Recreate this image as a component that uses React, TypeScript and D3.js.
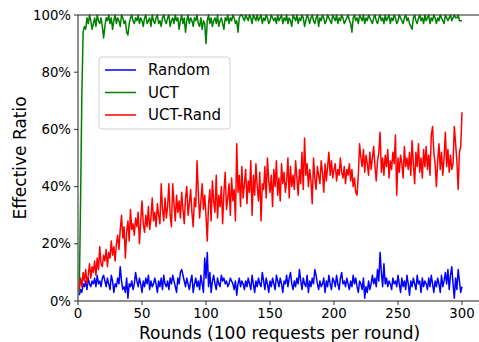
import React from 'react';
import * as d3 from 'd3';

// Effective ratio (%) per round
const randomSeries = [
  2, 4, 3, 6, 5, 7, 4, 8, 6, 5,
  7, 6, 8, 5, 9, 6, 7, 5, 8, 9,
  7, 5, 8, 6, 4, 9, 7, 3, 6, 5,
  8, 6, 12, 7, 4, 5, 3, 8, 1, 6,
  5, 7, 4, 6, 10, 7, 5, 8, 6, 3,
  7, 5, 8, 6, 9, 4, 7, 5, 6, 8,
  6, 3, 7, 5, 8, 4, 9, 6, 5, 7,
  4, 8, 6, 9, 7, 5, 3, 8, 6, 10,
  11, 9, 7, 5, 8, 6, 4, 7, 9, 3,
  6, 8, 5, 7, 4, 9, 6, 3, 15, 8,
  17, 5, 10, 3, 7, 9, 6, 4, 8, 6,
  5, 9, 7, 8, 6, 7, 5, 6, 8, 7,
  6, 4, 7, 2, 6, 8, 5, 7, 6, 4,
  7, 5, 8, 6, 4, 9, 6, 3, 7, 5,
  8, 6, 5, 10, 7, 4, 8, 6, 3, 7,
  5, 8, 6, 4, 9, 7, 5, 8, 6, 3,
  7, 6, 9, 5, 8, 10, 6, 4, 7, 5,
  8, 6, 11, 7, 4, 8, 6, 5, 9, 3,
  7, 5, 8, 6, 11, 9, 6, 4, 7, 5,
  6, 8, 3, 7, 5, 9, 6, 4, 8, 7,
  5, 9, 6, 4, 8, 10, 6, 7, 5, 8,
  6, 4, 7, 5, 9, 6, 8, 5, 3, 7,
  6, 4, 8, 1, 5, 3, 7, 4, 6, 9,
  6, 8, 5, 11, 7, 17, 10, 5, 13, 6,
  8, 5, 7, 6, 4, 8, 6, 7, 5, 9,
  6, 3, 8, 5, 7, 4, 9, 6, 2, 7,
  5, 8, 6, 4, 9, 6, 7, 3, 8, 5,
  7, 6, 4, 8, 5, 9, 6, 3, 7, 5,
  8, 6, 3, 9, 5, 7, 10, 6, 11, 4,
  9, 12, 6, 1, 8, 4, 11, 7, 3, 5,
];

const uctSeries = [
  3, 35, 72, 94, 96, 95, 99, 97, 100, 98,
  95, 97, 99, 96, 100, 98, 97, 99, 96, 92,
  96, 99, 98, 100, 97, 99, 95, 98, 100, 97,
  99, 98, 96, 100, 99, 97, 98, 94, 93, 97,
  99, 100, 98, 97, 99, 98, 100, 97, 99, 98,
  96, 99, 100, 97, 98, 99, 96, 100, 98, 97,
  99, 100, 97, 98, 96, 99, 100, 98, 97, 99,
  100, 96, 98, 99, 97, 100, 98, 99, 95, 98,
  100, 97, 99, 94, 98, 100, 97, 99, 98, 96,
  99, 98, 100, 97, 96, 99, 95, 98, 97, 90,
  98, 100, 97, 99, 96, 98, 99, 97, 100, 96,
  98, 99, 97, 95, 99, 98, 100, 97, 99, 98,
  100, 99, 97, 98, 94, 99, 100, 100, 99, 98,
  100, 99, 98, 100, 99, 97, 100, 99, 98, 100,
  98, 99, 100, 97, 99, 98, 100, 99, 97, 98,
  100, 99, 98, 99, 97, 100, 98, 99, 100, 97,
  99, 98, 100, 97, 99, 98, 96, 100, 99, 98,
  100, 97, 99, 98, 100, 99, 96, 98, 100, 99,
  97, 99, 100, 98, 97, 99, 100, 96, 99, 98,
  100, 99, 97, 98, 100, 99, 98, 97, 100, 99,
  98, 100, 97, 99, 98, 100, 99, 97, 98, 99,
  100, 98, 97, 94, 99, 100, 98, 99, 97, 100,
  99, 98, 100, 97, 99, 98, 100, 99, 98, 97,
  99, 100, 98, 97, 99, 100, 98, 99, 97, 100,
  98, 99, 100, 97, 99, 98, 100, 99, 97, 98,
  100, 99, 98, 97, 99, 100, 98, 99, 97, 96,
  95, 99, 100, 98, 97, 99, 100, 98, 99, 97,
  100, 98, 99, 100, 97, 99, 98, 100, 99, 97,
  99, 98, 100, 99, 98, 97, 100, 99, 98, 99,
  100, 98, 99, 100, 99, 99, 100, 98, 98, 98,
];

const uctRandSeries = [
  4, 8, 5, 10, 7, 11, 6, 9, 13, 8,
  12, 10, 14, 9, 15, 11, 19, 13, 12, 16,
  14, 18, 12, 17, 15, 21, 16, 19, 14, 20,
  23, 18, 25, 30, 22, 26, 15, 24, 28, 21,
  32, 25, 27, 23, 29, 26, 31, 20, 28, 35,
  27, 24, 30, 26, 33, 25, 29, 36, 28, 31,
  26, 34, 30, 27, 41, 32, 28, 36, 29, 33,
  41, 30, 26, 41, 34, 28, 37, 31, 35, 29,
  38, 32, 27, 36, 40, 30, 34, 39, 31, 26,
  36, 33, 49, 38, 29, 35, 41, 32, 37, 30,
  21, 34, 39, 28, 42, 35, 31, 44, 29, 37,
  33, 40, 27, 38, 45, 32, 36, 41, 30, 43,
  35, 39, 28, 55, 38, 44, 33, 47, 36, 41,
  46, 34, 42, 38, 49, 30, 44, 37, 48, 40,
  35, 45, 28, 41, 39, 47, 36, 50, 42, 38,
  44, 33, 46, 40, 49, 37, 43, 35, 48, 41,
  45, 38, 42, 50, 36, 47, 40, 44, 39, 49,
  43, 37, 46, 41, 52, 39, 57, 44, 48, 40,
  46, 42, 34, 50, 43, 39, 47, 44, 41, 49,
  45, 38, 48, 42, 47, 52, 44, 49, 43, 46,
  48, 42, 46, 44, 50, 45, 43, 47, 41, 46,
  44, 48, 42, 46, 40, 43, 38, 37, 44, 55,
  50, 47, 53, 45, 51, 48, 44, 52, 46, 50,
  54, 47, 42, 49, 52, 59, 45, 50, 44, 51,
  47, 53, 43, 49, 46, 52, 48, 58, 37, 50,
  45, 51, 48, 43, 54, 47, 50, 46, 52, 44,
  56, 48, 41, 52, 47, 55, 45, 50, 43, 53,
  47, 54, 46, 51, 44, 58, 61, 52, 48, 40,
  49, 55, 46, 52, 44, 50, 59, 47, 53, 45,
  51, 46, 48, 61, 55, 49, 39, 52, 54, 66,
];

const seriesNames = ['Random', 'UCT', 'UCT-Rand'];
const seriesColors = ['#0000ff', '#008000', '#ff0000'];
const xTicks = [0, 50, 100, 150, 200, 250, 300];
const yTicks = [0, 20, 40, 60, 80, 100];

const W = 479;
const H = 342;
const FONT = '"DejaVu Sans", sans-serif';

const App = () => {
  const margin = { left: 78, top: 15, bottom: 301 };
  const x = d3.scaleLinear().domain([0, 315]).range([margin.left, margin.left + 315 * 1.28]);
  const y = d3.scaleLinear().domain([0, 100]).range([margin.bottom, margin.top]);

  const line = d3.line<number>()
    .x((d, i) => x(i + 1))
    .y(d => y(d));

  const allSeries = [randomSeries, uctSeries, uctRandSeries];
  const x0 = x.range()[0];
  const x1 = x.range()[1];
  const axisColor = '#333';

  return (
    <div style={{ position: 'fixed', left: 0, top: 0 }}>
      <svg width={W} height={H} style={{ display: 'block', background: '#fff' }} fontFamily={FONT}>
        {/* series */}
        {allSeries.map((s, k) => (
          <path key={k} d={line(s) || ''} fill="none" stroke={seriesColors[k]}
            strokeWidth={1.5} strokeLinejoin="round" />
        ))}

        {/* spines */}
        <rect x={x0} y={margin.top} width={x1 - x0} height={margin.bottom - margin.top}
          fill="none" stroke={axisColor} strokeWidth={1.1} />

        {/* x axis */}
        {xTicks.map(t => (
          <g key={t} transform={`translate(${x(t)},${margin.bottom})`}>
            <line y2={4} stroke={axisColor} strokeWidth={1} />
            <text y={17} textAnchor="middle" fontSize={13.3} fill="#000">{t}</text>
          </g>
        ))}
        <text x={(x0 + x1) / 2} y={339} textAnchor="middle" fontSize={17} fill="#000">
          Rounds (100 requests per round)
        </text>

        {/* y axis */}
        {yTicks.map(t => (
          <g key={t} transform={`translate(${x0},${y(t)})`}>
            <line x2={-4} stroke={axisColor} strokeWidth={1} />
            <text x={-7} dy="0.35em" textAnchor="end" fontSize={13.3} fill="#000">{t}%</text>
          </g>
        ))}
        <text transform={`translate(26,${(margin.top + margin.bottom) / 2}) rotate(-90)`}
          textAnchor="middle" fontSize={17} fill="#000">Effective Ratio</text>

        {/* legend */}
        <rect x={99} y={57} width={131} height={72} rx={3} fill="#fff" fillOpacity={0.8}
          stroke="#d0d0d0" strokeWidth={1} />
        {seriesNames.map((n, i) => (
          <g key={n} transform={`translate(105,${70 + i * 22.5})`}>
            <line x1={0} x2={31} stroke={seriesColors[i]} strokeWidth={1.5} />
            <text x={43} dy="0.35em" fontSize={15} fill="#000">{n}</text>
          </g>
        ))}
      </svg>
    </div>
  );
};

export default App;
